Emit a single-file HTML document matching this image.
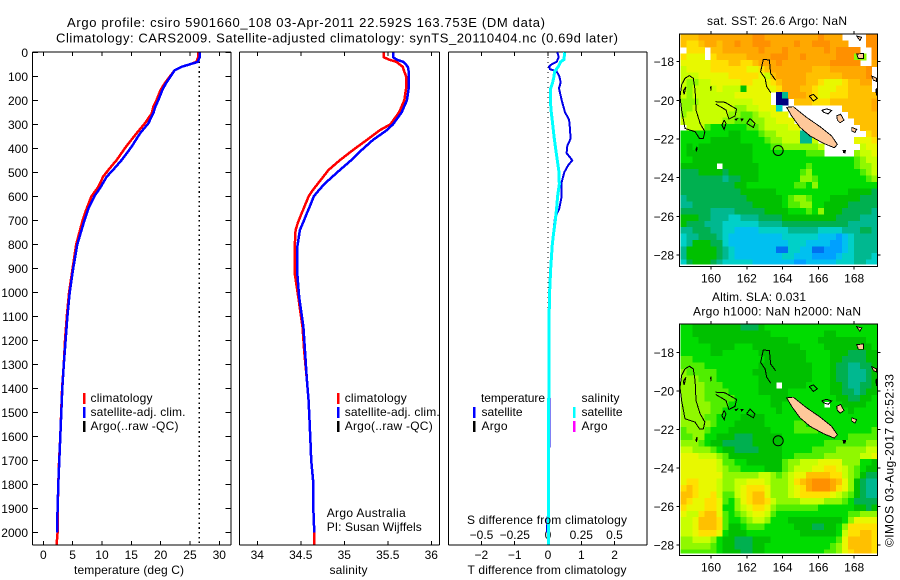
<!DOCTYPE html>
<html>
<head>
<meta charset="utf-8">
<title>Argo profile</title>
<style>
html,body{margin:0;padding:0;background:#fff;}
svg{display:block;}
text{font-family:"Liberation Sans",sans-serif;font-size:12px;fill:#000;}
</style>
</head>
<body>
<svg id="fig" xmlns="http://www.w3.org/2000/svg" width="900" height="580" viewBox="0 0 900 580">
<text x="67" y="27" style="font-size:13px" textLength="478" lengthAdjust="spacing">Argo profile: csiro 5901660_108 03-Apr-2011 22.592S 163.753E (DM data)</text>
<text x="56" y="42.5" style="font-size:13px" textLength="562" lengthAdjust="spacing">Climatology: CARS2009. Satellite-adjusted climatology: synTS_20110404.nc (0.69d later)</text>

<g id="p1"></g>
<g id="p2"></g>
<g id="p3"></g>
<g id="m1"></g>
<g id="m2"></g>

<g>
<rect x="83" y="393" width="2.5" height="11" fill="#f00"/>
<rect x="83" y="407" width="2.5" height="11" fill="#00f"/>
<rect x="83" y="421" width="2.5" height="11" fill="#000"/>
<text x="90.5" y="402" textLength="62">climatology</text>
<text x="90.5" y="416" textLength="95">satellite-adj. clim.</text>
<text x="90.5" y="430" textLength="88">Argo(..raw -QC)</text>
</g>
<g>
<rect x="337" y="393" width="2.5" height="11" fill="#f00"/>
<rect x="337" y="407" width="2.5" height="11" fill="#00f"/>
<rect x="337" y="421" width="2.5" height="11" fill="#000"/>
<text x="344.7" y="402" textLength="62">climatology</text>
<text x="344.7" y="416" textLength="95">satellite-adj. clim.</text>
<text x="344.7" y="430" textLength="88">Argo(..raw -QC)</text>
<text x="326.7" y="517" textLength="79">Argo Australia</text>
<text x="326.7" y="531" textLength="95">PI: Susan Wijffels</text>
</g>
<g>
<text x="481" y="402" textLength="64">temperature</text>
<text x="581.5" y="402" textLength="38">salinity</text>
<rect x="473" y="407" width="2.5" height="11" fill="#00f"/>
<rect x="473" y="421" width="2.5" height="11" fill="#000"/>
<rect x="573" y="407" width="2.5" height="11" fill="#0ff"/>
<rect x="573" y="421" width="2.5" height="11" fill="#f0f"/>
<text x="481.5" y="416" textLength="41">satellite</text>
<text x="481.5" y="430" textLength="26">Argo</text>
<text x="581.5" y="416" textLength="41">satellite</text>
<text x="581.5" y="430" textLength="26">Argo</text>
</g>

<text x="129" y="574" text-anchor="middle" textLength="110">temperature (deg C)</text>
<text x="348.5" y="574" text-anchor="middle" textLength="38">salinity</text>
<text x="547" y="574" text-anchor="middle" textLength="159">T difference from climatology</text>
<text x="547" y="524" text-anchor="middle" textLength="160">S difference from climatology</text>

<text x="777" y="25" text-anchor="middle" textLength="140">sat. SST: 26.6 Argo: NaN</text>
<text x="759" y="301" text-anchor="middle" textLength="94">Altim. SLA: 0.031</text>
<text x="777" y="315.5" text-anchor="middle" textLength="168">Argo h1000: NaN h2000: NaN</text>
<text transform="translate(893.5,547) rotate(-90)" textLength="173">©IMOS 03-Aug-2017 02:52:33</text>
</svg>

<script>
/* ---------- profile data ---------- */
const depthT = [0,20,40,50,60,75,100,129,157,199,226,254,296,337,393,449,490,518,560,600,650,700,800,900,1000,1100,1200,1300,1400,1500,1600,1700,1800,1900,2000,2050];
const tempClim = [26.4,26.4,26.1,25,23.6,22.4,21.6,20.7,20.0,19.3,18.75,18.5,17.3,15.9,14.1,12.5,11.1,10.2,9.4,8.2,7.4,6.7,5.6,5.0,4.4,4.0,3.7,3.5,3.2,3.05,2.9,2.7,2.55,2.45,2.44,2.27];
const tempSat = [26.7,26.7,26.3,25,23.6,22.4,21.7,20.9,20.3,19.6,19.1,18.75,17.9,16.5,15.05,13.35,11.9,10.8,9.8,8.7,7.7,7,5.8,5.1,4.5,4.1,3.8,3.5,3.24,3.07,2.9,2.73,2.56,2.44,2.33];
const satSST = [26.6];

const depthS = [0,20,30,40,60,80,100,150,200,250,300,324,365,407,449,490,545,573,600,636,670,706,740,810,920,1017,1143,1250,1365,1450,1532,1615,1698,1780,1865,1950,2000,2050];
const salClim = [35.45,35.45,35.51,35.6,35.67,35.69,35.71,35.71,35.69,35.63,35.53,35.41,35.26,35.10,34.95,34.82,34.70,34.64,34.59,34.55,34.51,34.47,34.44,34.43,34.43,34.47,34.52,34.54,34.57,34.59,34.6,34.61,34.62,34.64,34.64,34.65,34.655,34.655];
const salSat = [35.56,35.56,35.6,35.68,35.73,35.74,35.74,35.74,35.72,35.66,35.56,35.49,35.33,35.2,35.08,34.95,34.78,34.71,34.65,34.61,34.57,34.53,34.49,34.46,34.46,34.48,34.53,34.55,34.57,34.59,34.6,34.61,34.62,34.64,34.64,34.65,34.655];

const depthDT = [0,20,40,50,60,70,80,100,125,150,200,250,280,300,360,390,420,450,470,500,540,600,650,690,720,800,900,1000,1100,1300,1500,1640,1650,1900,1960,2000];
const tempDiff = [.28,.32,.26,.11,.03,.06,.26,.34,.38,.33,.41,.51,.63,.65,.68,.58,.56,.73,.61,.49,.41,.41,.34,.21,.18,.14,.08,.05,.04,.05,.05,.05,.02,.01,-.02,-.03];
const depthDS = [0,30,40,60,80,100,125,150,200,250,300,350,400,450,500,550,600,650,700,750,800,900,1000,1100,1500,2000,2050];
const salDiff = [.125,.12,.095,.0775,.05,.045,.035,.02,.0175,.025,.035,.045,.0575,.07,.0825,.085,.0725,.065,.055,.0425,.0325,.02,.012,.008,.005,.003,.003];

/* ---------- tick labels ---------- */
const depthTicks = [0,100,200,300,400,500,600,700,800,900,1000,1100,1200,1300,1400,1500,1600,1700,1800,1900,2000];
const tempTicks = [0,5,10,15,20,25,30];
const salTicks = [34,34.5,35,35.5,36];
const dTTicks = [-2,-1,0,1,2];
const dSTicks = [-0.5,-0.25,0,0.25,0.5];
const lonTicks = [160,162,164,166,168];
const latTicks = [-18,-20,-22,-24,-26,-28];

/* ---------- map levels (colour-scale index, N = no data) ---------- */
const N = null;
const sstLevels = [
[14,14,14,15,15,15,15,15,15,15,15,15,16,16,15,15,15,15,15,15,15,15,15,16,15,15,15,N,N,N,N,16,16],
[14,13,13,14,15,15,14,15,15,16,15,15,16,16,16,15,15,15,15,16,15,15,16,16,16,15,15,15,N,N,N,16,16],
[N,13,13,13,N,14,14,15,15,15,15,15,15,16,15,15,15,16,15,15,15,15,15,15,16,15,16,16,16,16,N,N,16],
[13,12,12,12,N,13,14,14,14,14,14,15,15,15,15,16,16,16,15,15,16,15,15,15,15,15,16,16,16,10,10,N,16],
[12,12,12,12,12,13,13,13,14,14,13,13,14,15,15,15,16,15,15,15,15,15,15,15,15,16,16,16,16,16,N,N,15],
[11,12,12,12,12,13,13,13,13,13,13,12,12,13,14,15,15,15,15,15,15,15,14,14,14,15,15,15,15,15,15,16,N],
[11,11,11,12,12,12,12,12,13,13,13,13,13,12,11,14,15,15,15,15,15,14,14,14,14,14,14,15,15,15,15,16,N],
[11,10,10,11,11,12,12,12,12,12,13,13,12,12,12,13,14,15,15,15,15,14,14,13,12,12,12,13,14,14,15,15,N],
[11,10,11,11,11,11,12,11,11,11,7,12,12,12,12,12,13,15,15,15,14,14,13,12,12,12,13,13,14,14,14,14,N],
[11,10,11,11,11,11,11,11,11,12,12,12,12,12,12,N,0,5,15,15,15,14,13,12,12,13,13,13,14,14,14,14,14],
[10,10,10,11,11,11,11,11,11,11,11,11,12,12,12,N,0,0,N,14,14,14,13,13,13,14,14,14,14,14,14,14,15],
[10,10,11,11,11,11,11,11,11,10,10,11,11,12,12,12,4,N,N,N,N,N,N,N,N,N,N,14,14,14,14,14,15],
[10,11,11,11,11,11,11,11,10,10,9,9,10,11,11,12,12,12,N,N,N,N,N,N,N,N,N,N,14,14,14,14,14],
[11,11,11,11,11,11,11,10,10,9,9,9,10,10,11,11,12,12,12,N,N,N,N,N,N,N,N,N,N,14,14,14,14],
[N,11,11,11,9,8,8,8,8,8,8,9,9,10,11,11,11,11,12,12,N,N,N,N,N,N,N,N,N,N,14,14,14],
[8,8,8,8,8,8,8,8,7,7,8,8,8,9,10,10,11,11,11,11,5,5,N,N,N,N,N,N,N,N,N,13,14],
[8,8,8,8,8,7,7,7,7,7,8,8,8,8,9,10,10,11,11,11,5,5,11,N,N,N,N,N,N,12,12,12,13],
[8,7,8,7,7,7,7,7,7,7,7,7,8,8,8,9,9,10,10,10,10,10,10,11,N,N,N,N,N,N,11,12,12],
[8,7,7,7,7,7,7,7,7,7,7,7,8,8,8,8,8,8,8,8,8,9,9,9,N,N,N,N,N,10,11,11,12],
[8,8,7,7,7,7,7,7,7,7,7,7,8,8,8,8,8,8,8,8,8,8,8,8,8,8,8,8,8,9,10,11,11],
[7,7,7,7,7,7,N,7,7,7,7,7,7,8,8,8,8,8,8,8,8,9,8,8,8,8,8,8,8,9,10,10,11],
[6,6,6,7,7,7,7,6,7,7,7,7,7,8,8,8,8,8,8,8,9,10,8,8,8,8,8,8,8,8,9,10,11],
[6,6,6,6,6,6,6,5,6,6,7,7,7,8,8,8,8,8,8,8,10,10,9,8,8,8,8,8,8,8,8,9,10],
[6,6,6,6,6,6,6,6,6,7,7,8,8,8,8,8,8,8,8,9,9,8,10,8,8,8,8,8,8,8,8,8,8],
[6,6,6,6,6,6,6,6,6,6,7,7,7,7,7,7,8,8,8,8,8,8,8,8,8,8,8,8,7,7,7,7,6],
[5,6,6,6,6,6,6,6,6,6,6,7,7,7,7,7,7,8,9,10,10,9,8,8,8,7,7,7,7,7,6,6,6],
[5,5,6,6,6,6,6,6,6,6,6,6,7,7,7,7,7,8,9,9,10,10,8,8,7,7,7,7,6,6,6,6,6],
[6,6,6,6,6,5,5,5,5,6,6,6,6,6,7,7,7,7,8,8,8,9,8,10,7,7,7,6,6,6,6,6,5],
[7,7,7,6,6,5,5,5,4,4,5,5,5,6,6,6,6,7,7,7,7,7,7,7,7,7,6,6,6,6,5,5,5],
[7,6,6,6,5,5,5,4,4,4,4,4,4,5,5,5,5,6,6,6,6,6,6,6,6,6,6,6,5,5,5,5,5],
[5,5,6,6,6,5,5,4,4,3,3,3,3,4,4,4,4,4,5,5,5,5,5,4,4,4,4,5,5,5,6,6,5],
[4,5,5,6,6,6,5,4,3,3,3,3,3,3,3,3,3,4,4,4,4,4,4,3,3,3,2,3,4,5,5,5,5],
[4,5,7,7,7,6,6,4,3,3,3,3,3,3,3,3,3,3,4,4,4,3,3,3,3,2,2,3,4,5,5,5,5],
[5,7,7,7,7,7,6,5,4,3,3,3,3,3,3,3,1,1,4,4,3,3,1,1,2,2,2,3,4,5,5,5,5],
[5,7,7,7,7,7,6,5,4,3,3,3,3,3,3,3,3,4,4,3,3,3,2,2,2,2,3,4,4,5,5,5,4],
[4,6,7,7,7,6,5,4,4,4,4,4,3,3,3,3,3,3,3,2,2,3,3,3,3,3,4,4,4,5,5,4,4]
];
const slaLevels = [
[8,8,7,7,7,7,7,7,7,7,6,6,6,7,8,8,8,8,8,8,8,8,8,8,8,8,8,8,8,8,8,8,8],
[8,8,7,7,7,7,7,7,7,7,7,7,7,7,7,8,8,8,8,8,8,8,8,8,7,7,8,8,8,8,8,8,8],
[8,8,8,7,7,7,7,7,7,7,7,7,7,7,7,7,7,7,8,8,8,8,8,7,7,7,7,7,7,7,7,8,8],
[8,8,8,8,8,7,7,7,7,8,8,8,7,7,7,7,7,7,7,7,8,8,8,8,7,7,7,7,7,7,7,7,8],
[8,8,8,8,8,7,7,8,8,8,8,8,8,7,7,7,7,7,7,7,7,8,8,8,8,7,7,7,6,6,6,7,7],
[9,9,8,8,8,8,8,8,8,8,8,8,8,8,7,7,7,7,7,7,7,8,8,8,8,7,7,6,6,6,6,7,7],
[9,9,9,9,8,8,8,8,8,8,8,8,8,7,7,7,7,7,7,7,7,7,8,8,8,7,6,6,5,5,6,6,7],
[10,9,9,9,9,9,8,8,8,8,8,8,7,7,7,7,7,7,7,7,7,7,8,8,8,7,6,6,5,5,5,6,7],
[10,10,10,9,9,9,8,8,8,8,8,8,8,7,7,7,7,7,7,7,7,7,8,8,8,7,6,6,5,5,5,6,7],
[10,10,10,10,9,9,9,8,8,8,8,8,8,7,7,7,N,7,7,7,7,8,8,8,8,7,7,6,5,5,6,6,7],
[10,10,10,10,9,9,9,9,8,8,8,8,8,7,7,7,7,7,8,8,8,8,8,8,8,7,7,6,6,5,6,7,7],
[10,10,10,10,9,9,9,9,9,8,8,8,8,8,8,7,7,7,8,8,8,8,8,8,8,8,7,7,6,6,7,7,8],
[10,10,10,10,10,9,9,9,8,8,8,8,8,8,8,7,7,8,8,8,8,8,8,8,N,8,8,7,7,7,7,8,8],
[10,10,10,10,10,9,9,8,8,8,8,8,8,8,8,8,7,8,8,8,8,8,8,8,8,8,8,8,7,8,8,8,8],
[10,10,10,10,9,9,8,8,8,8,7,7,7,7,8,8,8,8,8,8,8,8,8,8,8,8,8,8,8,8,8,8,8],
[10,10,10,10,10,9,8,8,8,7,7,7,7,7,8,8,8,8,8,9,9,8,8,8,8,8,8,8,8,8,8,8,8],
[9,10,10,10,9,8,8,8,7,7,7,7,7,7,7,8,8,8,8,9,9,9,9,8,8,8,8,8,8,8,8,8,9],
[9,9,10,10,8,8,7,7,7,6,6,6,7,7,7,7,7,8,8,8,8,8,8,8,8,8,8,8,9,9,9,9,9],
[10,10,10,9,8,7,7,6,6,6,6,6,7,7,7,7,7,8,8,8,8,8,8,8,9,9,9,9,9,9,9,10,10],
[11,11,10,10,10,9,8,7,7,6,6,6,6,7,7,7,7,8,8,8,8,8,9,9,9,9,10,10,10,10,10,11,11],
[12,12,12,11,11,11,10,9,7,7,7,7,7,7,7,7,7,8,8,9,9,9,9,9,10,10,10,10,10,10,11,11,12],
[12,12,12,12,12,12,11,9,9,8,8,7,7,7,7,7,7,9,10,10,11,11,11,12,12,12,12,10,10,10,8,8,7],
[12,12,12,12,12,12,11,10,9,9,8,8,8,8,7,7,7,9,10,11,11,11,12,12,13,13,12,11,10,9,8,7,7],
[12,12,12,12,12,12,12,10,10,10,10,10,10,11,11,10,9,10,11,12,12,14,14,14,14,13,13,11,10,9,7,6,6],
[12,13,13,12,12,12,11,10,10,11,11,12,12,12,11,10,10,10,11,13,14,15,16,16,16,15,14,12,10,7,6,5,5],
[13,14,13,12,12,12,11,10,10,11,12,13,13,13,12,10,10,10,11,12,13,15,16,16,16,15,13,12,10,7,6,5,5],
[14,14,13,12,12,13,11,9,9,11,12,13,14,14,12,10,10,10,11,12,13,13,13,13,13,12,11,10,9,7,6,5,5],
[14,13,12,12,13,13,12,9,8,10,12,13,14,14,13,11,10,10,10,10,11,11,11,11,10,10,10,9,8,6,6,6,6],
[13,12,12,12,13,13,12,8,8,10,11,12,13,13,12,10,9,9,9,9,9,9,9,8,8,8,8,8,8,7,7,6,7],
[12,11,11,13,14,14,12,9,8,9,10,11,12,12,11,9,8,8,8,8,8,8,8,8,8,8,8,8,9,9,10,10,10],
[11,11,12,14,14,14,13,9,8,8,9,10,11,11,10,8,8,8,7,7,7,7,7,7,7,7,7,8,10,12,12,12,12],
[11,11,12,14,14,14,13,9,7,7,8,9,9,9,8,8,8,8,8,7,7,7,6,6,7,7,8,10,13,13,13,13,13],
[11,11,12,13,13,13,12,8,7,7,7,8,8,8,8,8,8,8,8,8,7,7,7,7,7,7,8,11,13,13,14,14,13],
[10,10,11,11,11,10,8,7,7,6,6,6,7,7,7,8,8,8,8,8,8,8,8,8,8,8,9,12,14,14,14,14,13],
[10,10,10,10,10,9,8,7,7,6,6,6,7,7,8,8,8,8,8,8,8,8,8,8,8,9,10,12,14,14,14,14,13],
[9,9,9,9,9,9,8,7,7,7,6,6,7,7,8,8,8,8,8,8,8,8,8,8,9,9,10,12,13,14,14,14,13]
];
const mapPalette = ['#000080','#0070f0','#00a0ff','#00c0f0','#00d0c8','#00b890','#00b050','#00c000','#00dc00','#50ee00','#90f800','#c8ff00','#e8f800','#ffe000','#ffc000','#ffa800','#ff9000'];

/* ---------- map geography, [lon,lat] ---------- */
const argoPos = [163.753,-22.592];
const reefOutlines = [
 [[158.55,-18.86],[158.79,-18.72],[159.01,-18.86],[159.11,-19.47],[159.16,-20.5],[159.39,-21.19],[159.66,-21.62],[159.57,-21.97],[159.35,-21.97],[159.11,-21.62],[158.55,-21.45],[158.36,-20.5],[158.27,-19.81],[158.36,-19.2],[158.55,-18.86]],
 [[160.26,-20.07],[160.78,-20.1],[161.43,-20.45],[161.34,-20.81],[161.0,-20.97],[160.84,-20.5],[160.26,-20.19]],
 [[160.73,-21.02],[160.84,-21.19],[160.73,-21.5],[160.61,-21.28],[160.73,-21.02]],
 [[161.99,-21.19],[162.18,-20.95],[162.46,-21.19],[162.37,-21.4],[161.99,-21.19]],
 [[162.83,-18.26],[162.77,-18.52],[163.02,-18.86],[163.11,-19.29],[163.33,-19.6]],
 [[162.83,-18.26],[162.92,-17.88],[163.26,-17.91],[163.33,-18.6],[163.61,-18.95]],
 [[165.49,-19.78],[165.72,-19.69],[165.94,-19.9],[165.72,-20.03],[165.49,-19.78]],
 [[158.45,-19.5],[158.6,-19.3],[158.5,-19.7],[158.45,-19.5]],
 [[166.18,-20.52],[166.45,-20.44],[166.74,-20.52],[166.55,-20.7],[166.3,-20.62],[166.18,-20.52]]
];
const landPolygons = [
 [[164.23,-20.36],[164.6,-20.33],[165.34,-20.88],[166.09,-21.36],[166.74,-21.84],[167.06,-22.28],[166.89,-22.45],[166.28,-22.22],[165.53,-21.84],[164.97,-21.4],[164.51,-20.81]],
 [[167.02,-20.81],[167.24,-20.71],[167.43,-21.02],[167.21,-21.16],[167.06,-21.02]],
 [[167.86,-21.4],[168.14,-21.5],[168.04,-21.67],[167.86,-21.57]],
 [[168.14,-17.6],[168.51,-17.57],[168.51,-17.84],[168.23,-17.84]],
 [[168.14,-16.67],[168.42,-16.74],[168.32,-16.91]],
 [[168.98,-18.74],[169.25,-18.86],[169.25,-19.03],[169.07,-18.95]],
 [[169.2,-19.47],[169.25,-19.4],[169.25,-19.75]]
];
const blackIslands = [
 [[159.97,-19.35],[160,-19.25],[160.01,-19.5]],
 [[159.15,-22.55],[159.22,-22.4],[159.2,-22.65]],
 [[167.38,-22.58],[167.52,-22.58],[167.48,-22.72],[167.4,-22.7]],
 [[161.35,-20.98],[161.48,-20.95],[161.4,-21.03]],
 [[161.68,-20.97],[161.78,-20.97],[161.72,-21.05]]
];

/* ---------- helpers ---------- */
const NS = 'http://www.w3.org/2000/svg';
function mk(parent, tag, attrs){
  const e = document.createElementNS(NS, tag);
  for(const k in attrs) e.setAttribute(k, attrs[k]);
  parent.appendChild(e);
  return e;
}
function line(parent, x1, y1, x2, y2, name){
  const e = mk(parent, 'line', {x1:x1, y1:y1, x2:x2, y2:y2, stroke:'#000', 'stroke-width':1, 'shape-rendering':'crispEdges'});
  
  
  return e;
}
function label(parent, x, y, str, anchor, name){
  const e = mk(parent, 'text', {x:x, y:y, 'text-anchor':anchor});
  e.textContent = str;
  
  
  return e;
}
function fmt(v){ return String(v).replace('-', '\u2212'); }

const plotTop = 52, plotBottom = 545;
const yDepth = d => 52.3 + 0.2401 * d;
const xTemp = v => 43.3 + 5.867 * v;
const xSal = v => 257.3 + 87 * (v - 34);
const xDT = v => 548 + 33.3 * v;
const xDS = v => 548 + 133 * v;

function frame(g, left, right, name){
  line(g, left, plotTop, right, plotTop, name + '-top-border');
  line(g, left, plotBottom, right, plotBottom, name + '-bottom-border');
  line(g, left, plotTop, left, plotBottom, name + '-left-border');
  line(g, right, plotTop, right, plotBottom, name + '-right-border');
}
function xTicks(g, ticks, fx, name){
  ticks.forEach(t => {
    const x = fx(t);
    line(g, x, plotTop, x, plotTop + 4, name + '-tick-top');
    line(g, x, plotBottom, x, plotBottom - 4, name + '-tick-bottom');
    label(g, x, 559, fmt(t), 'middle', name + '-tick-label');
  });
}
function profile(g, xs, depths, fx, color, width, name){
  const pts = xs.map((v, i) => fx(v).toFixed(1) + ',' + yDepth(depths[i]).toFixed(1)).join(' ');
  const e = mk(g, 'polyline', {points:pts, fill:'none', stroke:color, 'stroke-width':width, 'stroke-linejoin':'miter', 'shape-rendering':'crispEdges'});
  
  
}

/* temperature panel */
const p1 = document.getElementById('p1');
frame(p1, 32.5, 231, 'temperature');
xTicks(p1, tempTicks, xTemp, 'temperature');
depthTicks.forEach(d => {
  line(p1, 32.5, yDepth(d), 38, yDepth(d), 'depth-tick-left');
  line(p1, 231, yDepth(d), 225.5, yDepth(d), 'depth-tick-right');
  label(p1, 28, yDepth(d) + 4.5, String(d), 'end', 'depth-tick-label');
});
const sstLine = mk(p1, 'line', {x1:xTemp(satSST[0]), x2:xTemp(satSST[0]), y1:plotTop, y2:plotBottom, stroke:'#000', 'stroke-width':1.4, 'stroke-dasharray':'1.6 3.2', 'shape-rendering':'crispEdges'});


profile(p1, tempClim, depthT, xTemp, '#f00', 2.5, 'temperature-climatology-line');
profile(p1, tempSat, depthT, xTemp, '#00f', 2.5, 'temperature-satellite-line');

/* salinity panel */
const p2 = document.getElementById('p2');
frame(p2, 239.5, 439.3, 'salinity');
xTicks(p2, salTicks, xSal, 'salinity');
profile(p2, salClim, depthS, xSal, '#f00', 2.5, 'salinity-climatology-line');
profile(p2, salSat, depthS, xSal, '#00f', 2.5, 'salinity-satellite-line');

/* difference panel */
const p3 = document.getElementById('p3');
frame(p3, 448.3, 647, 'difference');
xTicks(p3, dTTicks, xDT, 't-difference');
dSTicks.forEach(t => {
  label(p3, xDS(t), 539, fmt(t), 'middle', 's-difference-tick-label');
});
const zeroLine = mk(p3, 'line', {x1:548, x2:548, y1:plotTop, y2:plotBottom, stroke:'#000', 'stroke-width':1, 'stroke-dasharray':'1 4', 'shape-rendering':'crispEdges'});


profile(p3, tempDiff, depthDT, xDT, '#0000e8', 2, 'temperature-difference-line');
profile(p3, salDiff, depthDS, xDS, '#00ffff', 3, 'salinity-difference-line');

/* maps */
const xLon = v => 711 + 17.9 * (v - 160);
const cellW = 5.97, cellH = 6.44;

function drawMap(id, levels, top, yLat, bottom, bgName, clipId){
  const g = document.getElementById(id);
  const left = 679.3, right = 877.3;
  const dataLeft = 680.7;
  const defs = mk(g, 'defs', {});
  const cp = mk(defs, 'clipPath', {id:clipId});
  mk(cp, 'rect', {x:left, y:top, width:right-left, height:bottom-top});
  const clipG = mk(g, 'g', {'clip-path':'url(#' + clipId + ')'});
  
  
  const dataBottom = bottom - 2;
  levels.forEach((row, j) => {
    row.forEach((lvl, i) => {
      if(lvl === null) return;
      const y0 = top + j * cellH;
      const h = Math.min(cellH + 0.6, dataBottom - y0);
      if(h <= 0) return;
      const r = mk(clipG, 'rect', {x:(dataLeft + i*cellW).toFixed(2), y:y0.toFixed(2), width:(cellW+0.5).toFixed(2), height:h.toFixed(2), fill:mapPalette[lvl], 'shape-rendering':'crispEdges'});
      
      
    });
  });
  const ptStr = p => p.map(c => xLon(c[0]).toFixed(1) + ',' + yLat(c[1]).toFixed(1)).join(' ');
  landPolygons.forEach(p => {
    const e = mk(clipG, 'polygon', {points:ptStr(p), fill:'#ffc89a', stroke:'#000', 'stroke-width':0.9, 'shape-rendering':'crispEdges'});
    
    
  });
  blackIslands.forEach(p => {
    const e = mk(clipG, 'polygon', {points:ptStr(p), fill:'#000', stroke:'#000', 'stroke-width':0.9, 'shape-rendering':'crispEdges'});
    
    
  });
  reefOutlines.forEach(p => {
    const e = mk(clipG, 'polyline', {points:ptStr(p), fill:'none', stroke:'#000', 'stroke-width':1, 'shape-rendering':'crispEdges'});
    
    
  });
  const c = mk(g, 'circle', {cx:xLon(argoPos[0]), cy:yLat(argoPos[1]), r:5, fill:'none', stroke:'#000', 'stroke-width':1});
  
  
  const b = mk(g, 'rect', {x:left, y:top, width:right-left, height:bottom-top, fill:'none', stroke:'#000', 'stroke-width':1, 'shape-rendering':'crispEdges'});
  
  
  lonTicks.forEach(t => {
    const x = xLon(t);
    line(g, x, top, x, top - 3, 'lon-tick-top');
    line(g, x, bottom, x, bottom + 3, 'lon-tick-bottom');
    label(g, x, bottom + 16, String(t), 'middle', 'lon-tick-label');
  });
  latTicks.forEach(t => {
    const y = yLat(t);
    line(g, left, y, left - 3, y, 'lat-tick-left');
    line(g, right, y, right + 3, y, 'lat-tick-right');
    label(g, 674, y + 4.5, fmt(t), 'end', 'lat-tick-label');
  });
}
drawMap('m1', sstLevels, 34, v => 61.7 + 19.33 * (-18 - v), 266.7, 'sst-map', 'clipm1');
drawMap('m2', slaLevels, 324, v => 352.3 + 19.27 * (-18 - v), 555.7, 'sla-map', 'clipm2');
</script>
</body>
</html>
